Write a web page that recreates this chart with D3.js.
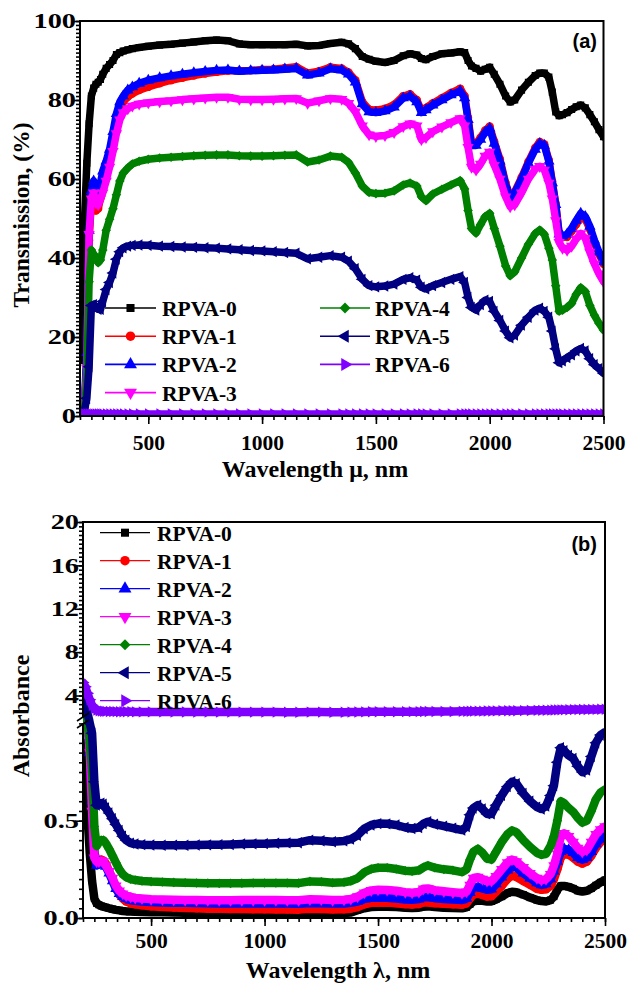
<!DOCTYPE html>
<html>
<head>
<meta charset="utf-8">
<script src="https://cdn.jsdelivr.net/npm/d3@7"></script>
<style>
  body { margin: 0; background: #fff; }
  svg { display: block; }
  text { font-family: "Liberation Serif", "Times New Roman", serif; font-weight: bold; fill: #000; }
</style>
</head>
<body>
<svg id="chart" width="628" height="984"></svg>
<script>
// ---- shared wavelength grid (nm) ----
const wavelengths = [
  200, 210, 220, 230, 240, 250, 260, 270, 280, 290,
  300, 315, 330, 345, 360, 375, 390, 410, 430, 460,
  500, 550, 600, 650, 700, 750, 800, 850, 900, 950,
  1000, 1050, 1100, 1150, 1200, 1250, 1300, 1350, 1380, 1410,
  1440, 1470, 1500, 1540, 1580, 1620, 1650, 1680, 1700, 1720,
  1750, 1790, 1830, 1870, 1890, 1905, 1920, 1940, 1960, 1980,
  2000, 2020, 2045, 2070, 2090, 2110, 2140, 2170, 2200, 2220,
  2240, 2260, 2275, 2290, 2305, 2320, 2340, 2360, 2380, 2400,
  2420, 2440, 2460, 2480, 2500
];

const seriesNames = ["RPVA-0", "RPVA-1", "RPVA-2", "RPVA-3", "RPVA-4", "RPVA-5", "RPVA-6"];
const seriesColors = ["#000000", "#ff0000", "#0000ff", "#ff00ff", "#008000", "#000080", "#8000ff"];

// ---- (a) transmission, % ----
const trans0 = [
  14, 28, 50, 64, 74, 81, 83, 84, 84.5, 85.2,
  86.5, 88, 89, 90, 91.5, 92, 92.4, 92.7, 93, 93.3,
  93.6, 93.9, 94.1, 94.4, 94.7, 95, 95.2, 95, 94.2, 94,
  94, 94, 94, 94.1, 93.7, 93.8, 94.3, 94.6, 94.2, 93,
  91, 90.3, 89.8, 89.5, 90, 91.2, 91.7, 91.4, 90.5, 90.2,
  91, 91.7, 91.9, 92.2, 92, 90, 88.6, 88, 87.3, 87.8,
  88.3, 86.5, 84, 81, 79.5, 80, 82.5, 84.5, 86.2, 86.8,
  86.8, 85.8, 82, 77, 76, 76.3, 76.8, 77.6, 78.3, 78.7,
  78, 76.3, 74.5, 72.5, 70.7
];
const trans1 = [
  0.5, 1, 3, 13.5, 44.5, 54.5, 54, 52, 52.5, 55,
  57, 61.5, 66, 70.5, 74.5, 77.5, 79.5, 80.8, 81.6, 82.5,
  83.3, 84.2, 85, 85.6, 86.2, 86.7, 87.1, 87.4, 87.4, 87.5,
  87.7, 87.8, 88.1, 88.4, 86.8, 87.3, 88.3, 88, 87, 85,
  79.6, 77.6, 77.4, 77.8, 78.8, 81, 81.5, 80, 77.3, 78,
  79.2, 80.5, 81.8, 82.9, 81, 75.5, 69, 69, 70.5, 72.3,
  73.3, 69.5, 65, 59, 55.3, 56.8, 60.4, 64.4, 67.9, 69.4,
  68.8, 64.8, 59.3, 53.8, 46.3, 45.3, 45.3, 46.8, 48.5, 50.3,
  49.8, 47.3, 43.8, 41, 38.5
];
const trans2 = [
  0.5, 0.8, 4, 16, 47, 57, 59.5, 57, 56.5, 59,
  62, 64.5, 67.5, 72, 76.5, 79.5, 81, 82.5, 83.3, 84.2,
  85, 85.6, 86.1, 86.5, 86.9, 87.2, 87.5, 87.6, 87.3, 87.4,
  87.5, 87.6, 87.8, 88, 86.3, 86.8, 87.9, 87.6, 86.5, 84.5,
  79, 77, 76.8, 77.2, 78.2, 80.5, 81, 79.5, 76.8, 77.5,
  78.7, 80, 81.3, 82.3, 80.5, 75, 68.5, 68.5, 70, 71.8,
  72.8, 69, 64.5, 58.5, 55, 56.5, 60, 64, 67.5, 69,
  68.5, 64.5, 59, 53.5, 46, 45.5, 46, 47.5, 49.5, 51.3,
  50.5, 48, 44.5, 41.5, 39
];
const trans3 = [
  0.5, 1, 3, 12, 46, 55, 56.5, 54, 53.5, 55,
  56.5, 59.5, 63, 67, 71.5, 75, 76.8, 77.8, 78.5, 79,
  79.3, 79.6, 79.8, 80.1, 80.3, 80.5, 80.7, 80.7, 80.2, 80.1,
  80.1, 80.2, 80.3, 80.4, 79.2, 79.8, 80.4, 80.2, 79.2, 77,
  73.5, 71.2, 70.8, 71, 71.8, 73.3, 74, 73.5, 70, 70.5,
  72, 73.2, 74.3, 75.3, 73.5, 68, 63, 62.3, 63.8, 65.8,
  66.8, 63.5, 60, 55.5, 53, 53.5, 56.5, 60, 62.5, 63.2,
  62.3, 59, 55, 49.5, 44, 42.5, 42, 43, 44.8, 46.2,
  45, 41.5, 38.5, 36, 34
];
const trans4 = [
  0.5, 1, 2, 9, 34, 42, 41, 40, 38.8, 39.5,
  42, 47, 49.8, 52.5, 56, 59.5, 61.5, 62.8, 63.8, 64.5,
  65, 65.3, 65.5, 65.7, 65.9, 66, 66.1, 66.1, 65.9, 65.8,
  65.8, 65.9, 66, 66.1, 64.3, 64.8, 65.8, 65.5, 64.2, 61.5,
  58.2, 56.6, 56.3, 56.4, 57, 58.5, 59, 58.2, 55.5, 54.5,
  56.2, 57.4, 58.5, 59.6, 57.5, 52, 47.5, 46.3, 48.5, 50.5,
  51.3, 47.5, 43, 38, 35.5, 36.5, 40, 43.5, 46.2, 47.1,
  46, 42.5, 39.5, 33, 26.5, 26.8, 27.5, 28.5, 30.8, 32.5,
  31.5, 28, 25.5, 23.5, 21.8
];
const trans5 = [
  0.5, 0.8, 1.5, 4.5, 12.5, 28, 28.2, 27.5, 27, 27,
  29, 32, 33.8, 36.2, 39.7, 41.6, 42.6, 43, 43.2, 43.3,
  43.2, 43, 42.9, 42.8, 42.7, 42.6, 42.5, 42.3, 42.1, 41.9,
  41.8, 41.6, 41.4, 41.2, 39.8, 40.2, 40.6, 40.2, 39.2, 37.3,
  34.6, 33, 32.7, 32.9, 33.4, 34.6, 35, 34.4, 32.6, 32.2,
  33, 33.8, 34.6, 35.3, 33.8, 30, 27.5, 26.8, 28.2, 29.3,
  29, 26.5, 24.2, 21.5, 19.8, 20.5, 23, 25, 26.8, 27.3,
  26.5, 25, 21.5, 17, 13.5, 14, 14.8, 15.5, 16.5, 17.1,
  16.5, 14.5, 13, 12, 10.8
];
const trans6 = [
  0.6, 0.6, 0.5, 0.5, 0.5, 0.5, 0.5, 0.5, 0.5, 0.5,
  0.5, 0.5, 0.5, 0.5, 0.5, 0.5, 0.5, 0.5, 0.5, 0.5,
  0.5, 0.5, 0.5, 0.5, 0.5, 0.5, 0.5, 0.5, 0.5, 0.5,
  0.5, 0.5, 0.5, 0.5, 0.5, 0.5, 0.5, 0.5, 0.5, 0.5,
  0.5, 0.5, 0.5, 0.5, 0.5, 0.5, 0.5, 0.5, 0.5, 0.5,
  0.5, 0.5, 0.5, 0.5, 0.5, 0.5, 0.5, 0.5, 0.5, 0.5,
  0.5, 0.5, 0.5, 0.5, 0.5, 0.5, 0.5, 0.5, 0.5, 0.5,
  0.5, 0.5, 0.5, 0.5, 0.5, 0.5, 0.5, 0.5, 0.5, 0.5,
  0.5, 0.5, 0.5, 0.5, 0.5
];

// ---- (b) absorbance ----
const abs0 = [
  0.9, 0.8, 0.52, 0.33, 0.19, 0.1, 0.075, 0.068, 0.062, 0.058,
  0.055, 0.05, 0.046, 0.042, 0.039, 0.036, 0.034, 0.033, 0.032, 0.031,
  0.03, 0.029, 0.028, 0.027, 0.026, 0.025, 0.024, 0.024, 0.026, 0.026,
  0.026, 0.026, 0.026, 0.026, 0.028, 0.027, 0.025, 0.025, 0.028, 0.04,
  0.05, 0.056, 0.058, 0.058, 0.056, 0.053, 0.052, 0.053, 0.058, 0.06,
  0.056, 0.053, 0.052, 0.05, 0.055, 0.07, 0.085, 0.09, 0.088, 0.085,
  0.085, 0.095, 0.11, 0.128, 0.135, 0.132, 0.12, 0.105, 0.092, 0.087,
  0.085, 0.092, 0.11, 0.145, 0.165, 0.165, 0.16, 0.152, 0.14, 0.136,
  0.14, 0.152, 0.168, 0.183, 0.195
];
const abs1 = [
  1.6, 1.3, 1.1, 0.95, 0.7, 0.33, 0.29, 0.295, 0.3, 0.295,
  0.28, 0.24, 0.2, 0.16, 0.12, 0.1, 0.085, 0.075, 0.07, 0.065,
  0.06, 0.057, 0.054, 0.052, 0.05, 0.048, 0.047, 0.046, 0.046, 0.045,
  0.045, 0.044, 0.044, 0.043, 0.047, 0.046, 0.044, 0.045, 0.048, 0.056,
  0.07, 0.078, 0.08, 0.079, 0.076, 0.071, 0.069, 0.072, 0.08, 0.08,
  0.076, 0.073, 0.07, 0.068, 0.075, 0.1, 0.12, 0.125, 0.118, 0.11,
  0.112, 0.135, 0.165, 0.2, 0.22, 0.21, 0.19, 0.17, 0.15, 0.145,
  0.148, 0.165, 0.2, 0.25, 0.31, 0.33, 0.325, 0.31, 0.29, 0.28,
  0.29, 0.32, 0.36, 0.39, 0.41
];
const abs2 = [
  1.5, 1.2, 1.0, 0.85, 0.6, 0.33, 0.27, 0.28, 0.285, 0.28,
  0.265, 0.23, 0.19, 0.15, 0.125, 0.11, 0.1, 0.092, 0.088, 0.085,
  0.082, 0.08, 0.079, 0.078, 0.077, 0.076, 0.075, 0.075, 0.075, 0.075,
  0.075, 0.074, 0.074, 0.073, 0.077, 0.076, 0.074, 0.075, 0.078, 0.085,
  0.098, 0.104, 0.105, 0.104, 0.1, 0.095, 0.094, 0.097, 0.107, 0.108,
  0.102, 0.098, 0.095, 0.093, 0.1, 0.13, 0.155, 0.16, 0.152, 0.145,
  0.148, 0.175, 0.21, 0.245, 0.265, 0.258, 0.23, 0.205, 0.18, 0.17,
  0.175, 0.2, 0.24, 0.29, 0.34, 0.355, 0.35, 0.335, 0.31, 0.3,
  0.31, 0.34, 0.38, 0.405, 0.42
];
const abs3 = [
  1.5, 1.25, 1.05, 0.85, 0.55, 0.31, 0.29, 0.29, 0.295, 0.29,
  0.27, 0.24, 0.205, 0.165, 0.14, 0.125, 0.115, 0.108, 0.103, 0.1,
  0.097, 0.095, 0.094, 0.093, 0.092, 0.091, 0.091, 0.091, 0.092, 0.092,
  0.092, 0.092, 0.091, 0.091, 0.096, 0.095, 0.092, 0.094, 0.098, 0.11,
  0.13, 0.142, 0.145, 0.144, 0.14, 0.133, 0.13, 0.134, 0.15, 0.152,
  0.143, 0.137, 0.132, 0.128, 0.135, 0.17, 0.205, 0.21, 0.2, 0.19,
  0.19, 0.215, 0.25, 0.285, 0.3, 0.29, 0.26, 0.23, 0.205, 0.195,
  0.2, 0.225, 0.27, 0.33, 0.42, 0.435, 0.42, 0.39, 0.36, 0.34,
  0.35, 0.39, 0.43, 0.455, 0.47
];
const abs4 = [
  2.3, 1.6, 1.2, 0.9, 0.75, 0.47, 0.37, 0.39, 0.4, 0.4,
  0.385, 0.355, 0.32, 0.285, 0.25, 0.225, 0.21, 0.2, 0.195, 0.19,
  0.187, 0.185, 0.183, 0.181, 0.18, 0.179, 0.178, 0.178, 0.179, 0.18,
  0.18, 0.18, 0.18, 0.179, 0.188, 0.186, 0.181, 0.184, 0.19, 0.205,
  0.235, 0.252, 0.258, 0.258, 0.252, 0.243, 0.24, 0.245, 0.26, 0.27,
  0.258, 0.25, 0.245, 0.236, 0.25, 0.3, 0.34, 0.355, 0.335, 0.305,
  0.3, 0.34, 0.39, 0.43, 0.45, 0.44, 0.4, 0.365, 0.335, 0.325,
  0.33, 0.37, 0.42, 0.5, 0.6, 0.59, 0.565, 0.545, 0.515, 0.49,
  0.5, 0.55, 0.61, 0.645, 0.66
];
const abs5 = [
  4.2, 3.3, 2.4, 1.0, 0.95, 0.7, 0.58, 0.585, 0.59, 0.585,
  0.565, 0.54, 0.51, 0.48, 0.45, 0.42, 0.4, 0.385, 0.38, 0.377,
  0.375, 0.374, 0.374, 0.374, 0.375, 0.376, 0.377, 0.378, 0.38, 0.381,
  0.382, 0.384, 0.386, 0.387, 0.4, 0.397, 0.392, 0.396, 0.405, 0.425,
  0.46, 0.478, 0.485, 0.484, 0.478, 0.465, 0.46, 0.465, 0.485, 0.495,
  0.482, 0.472, 0.462, 0.452, 0.47, 0.53, 0.565, 0.58, 0.56, 0.535,
  0.535, 0.58, 0.63, 0.675, 0.7, 0.69, 0.64, 0.6, 0.57, 0.56,
  0.575, 0.63, 0.68, 0.8, 0.875, 0.86, 0.835, 0.82, 0.78, 0.75,
  0.76, 0.83, 0.9, 0.94, 0.955
];
const abs6 = [
  5.2, 4.8, 4.2, 3.6, 3.1, 2.8, 2.65, 2.6, 2.57, 2.55,
  2.54, 2.53, 2.52, 2.51, 2.5, 2.5, 2.5, 2.5, 2.49, 2.49,
  2.49, 2.49, 2.48, 2.48, 2.48, 2.48, 2.47, 2.47, 2.47, 2.47,
  2.47, 2.47, 2.46, 2.46, 2.47, 2.47, 2.46, 2.46, 2.47, 2.48,
  2.49, 2.5, 2.5, 2.5, 2.5, 2.51, 2.51, 2.51, 2.52, 2.52,
  2.52, 2.53, 2.53, 2.54, 2.54, 2.55, 2.56, 2.56, 2.56, 2.57,
  2.57, 2.58, 2.59, 2.6, 2.6, 2.6, 2.61, 2.62, 2.63, 2.63,
  2.64, 2.65, 2.66, 2.67, 2.68, 2.68, 2.69, 2.7, 2.7, 2.71,
  2.71, 2.72, 2.72, 2.73, 2.73
];

// ---- tick values ----
const xMajorTicks = [500, 1000, 1500, 2000, 2500];
const transMajorTicks = [0, 20, 40, 60, 80, 100];
const absLowTicks = [0.0, 0.5];
const absHighTicks = [4, 8, 12, 16, 20];

const transSeries = [trans0, trans1, trans2, trans3, trans4, trans5, trans6];
const absSeries = [abs0, abs1, abs2, abs3, abs4, abs5, abs6];

// marker shapes, one per series
const markers = [
  { type: d3.symbolSquare, rot: 0, size: 50 },
  { type: d3.symbolCircle, rot: 0, size: 54 },
  { type: d3.symbolTriangle, rot: 0, size: 56 },
  { type: d3.symbolTriangle, rot: 180, size: 56 },
  { type: d3.symbolSquare, rot: 45, size: 46 },
  { type: d3.symbolTriangle, rot: -90, size: 56 },
  { type: d3.symbolTriangle, rot: 90, size: 56 }
];

const svg = d3.select("#chart");

function markerPath(i, scale) {
  const m = markers[i];
  return d3.symbol().type(m.type).size(m.size * (scale || 1))();
}

function drawSeries(g, x, y, series, bandWidth) {
  series.forEach((vals, i) => {
    const pts = wavelengths.map((w, k) => [w, vals[k]]);
    const line = d3.line().x(d => x(d[0])).y(d => y(d[1]));
    g.append("path")
      .attr("d", line(pts))
      .attr("fill", "none")
      .attr("stroke", seriesColors[i])
      .attr("stroke-width", bandWidth)
      .attr("stroke-linejoin", "round")
      .attr("stroke-linecap", "round");
    g.selectAll(null)
      .data(pts)
      .enter()
      .append("path")
      .attr("d", markerPath(i))
      .attr("fill", seriesColors[i])
      .attr("transform", d => `translate(${x(d[0])},${y(d[1])}) rotate(${markers[i].rot})`);
  });
}

function legendEntry(g, i, lx0, lx1, ly, tx, lw) {
  g.append("line")
    .attr("x1", lx0).attr("x2", lx1).attr("y1", ly).attr("y2", ly)
    .attr("stroke", seriesColors[i]).attr("stroke-width", lw);
  g.append("path")
    .attr("d", markerPath(i, 1.3))
    .attr("fill", seriesColors[i])
    .attr("transform", `translate(${(lx0 + lx1) / 2},${ly}) rotate(${markers[i].rot})`);
  g.append("text")
    .attr("x", tx).attr("y", ly + 8)
    .style("font-size", "21.5px")
    .text(seriesNames[i]);
}

function styleAxis(sel) {
  sel.select(".domain").remove();
  sel.selectAll(".tick line").attr("stroke", "#000").attr("stroke-width", 1.6);
  sel.selectAll(".tick text").attr("fill", "#000");
}

// ================= panel (a) =================
const xA = d3.scaleLinear().domain([200, 2500]).range([80, 603.5]);
const yA = d3.scaleLinear().domain([0, 100]).range([416, 21]);

svg.append("clipPath").attr("id", "clipA")
  .append("rect").attr("x", 80).attr("y", 21).attr("width", 523.5).attr("height", 395);

const gA = svg.append("g").attr("clip-path", "url(#clipA)");
drawSeries(gA, xA, yA, transSeries, 7.5);

// axes (a)
svg.append("g").attr("transform", "translate(0,416)")
  .call(d3.axisBottom(xA).tickValues(d3.range(200, 2501, 50)).tickSize(4).tickFormat(""))
  .call(styleAxis);
const axA = svg.append("g").attr("transform", "translate(0,416)")
  .call(d3.axisBottom(xA).tickValues(xMajorTicks).tickSize(8).tickFormat(d3.format("d")))
  .call(styleAxis);
axA.selectAll("text").attr("y", 34).attr("dy", null).style("font-size", "21.5px");

svg.append("g").attr("transform", "translate(80,0)")
  .call(d3.axisLeft(yA).tickValues(d3.range(0, 101, 1)).tickSize(4).tickFormat(""))
  .call(styleAxis);
const ayA = svg.append("g").attr("transform", "translate(80,0)")
  .call(d3.axisLeft(yA).tickValues(transMajorTicks).tickSize(8).tickFormat(d3.format("d")))
  .call(styleAxis);
ayA.selectAll("text").attr("x", -4 / 1.35).attr("transform", "scale(1.35,1)").style("font-size", "21px");

svg.append("rect").attr("x", 80).attr("y", 21).attr("width", 523.5).attr("height", 395)
  .attr("fill", "none").attr("stroke", "#000").attr("stroke-width", 2);

svg.append("text")
  .attr("transform", "translate(29,215) rotate(-90)")
  .attr("text-anchor", "middle")
  .style("font-size", "23.5px")
  .text("Transmission, (%)");
svg.append("text")
  .attr("x", 315).attr("y", 477)
  .attr("text-anchor", "middle")
  .style("font-size", "24px")
  .text("Wavelength μ, nm");
svg.append("text")
  .attr("x", 597).attr("y", 48)
  .attr("text-anchor", "end")
  .style("font-family", "'Liberation Sans', Arial, sans-serif")
  .style("font-size", "20px")
  .text("(a)");

const legA = svg.append("g");
[0, 1, 2, 3].forEach((i, r) => legendEntry(legA, i, 105, 156, 308 + r * 28.2, 162, 1.6));
[4, 5, 6].forEach((i, r) => legendEntry(legA, i, 320, 370, 308 + r * 28.2, 375, 1.6));

// ================= panel (b) =================
const xB = d3.scaleLinear().domain([200, 2500]).range([83, 605]);
const yLow = d3.scaleLinear().domain([0, 1]).range([918, 723.4]);
const yHigh = d3.scaleLinear().domain([2, 20]).range([717.2, 522]);
const yGap = d3.scaleLinear().domain([1, 2]).range([723.4, 717.2]);
const yB = v => (v <= 1 ? yLow(v) : v >= 2 ? yHigh(v) : yGap(v));

svg.append("clipPath").attr("id", "clipB")
  .append("rect").attr("x", 83).attr("y", 522).attr("width", 522).attr("height", 396);

const gB = svg.append("g").attr("clip-path", "url(#clipB)");
drawSeries(gB, xB, yB, absSeries, 8.5);

svg.append("g").attr("transform", "translate(0,918)")
  .call(d3.axisBottom(xB).tickValues(d3.range(200, 2501, 50)).tickSize(4).tickFormat(""))
  .call(styleAxis);
const axB = svg.append("g").attr("transform", "translate(0,918)")
  .call(d3.axisBottom(xB).tickValues(xMajorTicks).tickSize(8).tickFormat(d3.format("d")))
  .call(styleAxis);
axB.selectAll("text").attr("y", 30).attr("dy", null).style("font-size", "21.5px");

// lower segment
svg.append("g").attr("transform", "translate(83,0)")
  .call(d3.axisLeft(yLow).tickValues(d3.range(0, 1.001, 0.05)).tickSize(4).tickFormat(""))
  .call(styleAxis);
const ayLow = svg.append("g").attr("transform", "translate(83,0)")
  .call(d3.axisLeft(yLow).tickValues(absLowTicks).tickSize(8).tickFormat(d3.format(".1f")))
  .call(styleAxis);
ayLow.selectAll("text").attr("x", -4 / 1.35).attr("transform", "scale(1.35,1)").style("font-size", "21px");

// upper segment
svg.append("g").attr("transform", "translate(83,0)")
  .call(d3.axisLeft(yHigh).tickValues(d3.range(2.4, 20.01, 0.4)).tickSize(4).tickFormat(""))
  .call(styleAxis);
const ayHigh = svg.append("g").attr("transform", "translate(83,0)")
  .call(d3.axisLeft(yHigh).tickValues(absHighTicks).tickSize(8).tickFormat(d3.format("d")))
  .call(styleAxis);
ayHigh.selectAll("text").attr("x", -4 / 1.35).attr("transform", "scale(1.35,1)").style("font-size", "21px");

// frame with broken left axis
const frameB = svg.append("g").attr("stroke", "#000").attr("stroke-width", 2).attr("fill", "none");
frameB.append("path").attr("d", "M83,717.2 V522 H605 V918 H83 V723.4");
frameB.append("line").attr("x1", 77).attr("y1", 721).attr("x2", 89).attr("y2", 713).attr("stroke-width", 1.6);
frameB.append("line").attr("x1", 77).attr("y1", 728).attr("x2", 89).attr("y2", 720).attr("stroke-width", 1.6);

svg.append("text")
  .attr("transform", "translate(29,716) rotate(-90)")
  .attr("text-anchor", "middle")
  .style("font-size", "24px")
  .text("Absorbance");
svg.append("text")
  .attr("x", 338).attr("y", 978)
  .attr("text-anchor", "middle")
  .style("font-size", "24px")
  .text("Wavelength λ, nm");
svg.append("text")
  .attr("x", 597).attr("y", 551)
  .attr("text-anchor", "end")
  .style("font-family", "'Liberation Sans', Arial, sans-serif")
  .style("font-size", "20px")
  .text("(b)");

const legB = svg.append("g");
[0, 1, 2, 3, 4, 5, 6].forEach((i, r) => legendEntry(legB, i, 100, 150, 532.7 + r * 28, 157, 1.2));
</script>
</body>
</html>
